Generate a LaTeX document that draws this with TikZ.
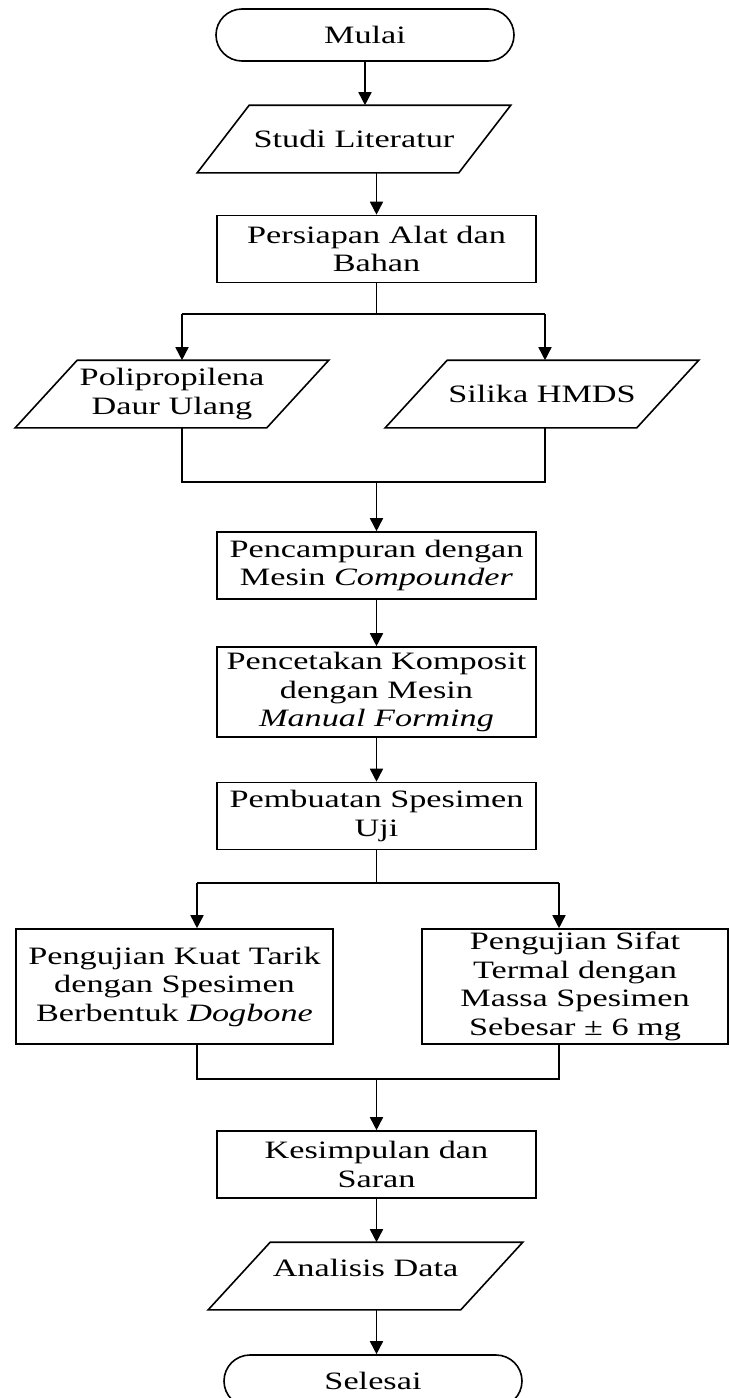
\documentclass[tikz,border=0pt]{standalone}
\usepackage{fontspec}
\setmainfont{Liberation Serif}[FakeStretch=1.37]
\usepackage{tikz}
\usetikzlibrary{arrows.meta}

\newcommand{\jajar}[2][31pt]{\draw[garis] (#2.south west) -- ([xshift=#1]#2.north west) -- (#2.north east) -- ([xshift=-#1]#2.south east) -- cycle;}

\begin{document}
\begin{tikzpicture}[x=0.5pt,y=-0.5pt]
\pgfmathsetmacro{\xMid}{376.5}
\pgfmathsetmacro{\xL}{182}
\pgfmathsetmacro{\xR}{545}

\tikzstyle{every node}=[font=\fontsize{12.5}{14.25}\selectfont, align=center, line width=0.8pt]
\tikzstyle{proses}=[draw, rectangle, minimum width=159.5pt, minimum height=33.5pt, inner sep=1pt]
\tikzstyle{data}=[rectangle, minimum width=156pt, minimum height=33pt, inner sep=1pt]
\tikzstyle{terminal}=[draw, rectangle, rounded corners=13pt, minimum width=149pt, minimum height=26pt]
\tikzstyle{arr}=[line width=0.8pt, -{Triangle[length=6.5pt,width=6.5pt]}]
\tikzstyle{garis}=[line width=0.8pt]

\useasboundingbox (0,0) rectangle (729,1398);

\node[terminal] (mulai) at (365,35) {Mulai};
\node[data] (studi) at (354,139) {Studi Literatur};
\node[proses] (persiapan) at (\xMid,249) {Persiapan Alat dan\\Bahan};
\node[data] (poli) at (172,394) {Polipropilena\\Daur Ulang};
\node[data] (silika) at (542,394) {Silika HMDS};
\node[proses] (pencampuran) at (\xMid,565.5) {Pencampuran dengan\\Mesin \textit{Compounder}};
\node[proses, minimum height=45pt] (pencetakan) at (\xMid,692) {Pencetakan Komposit\\dengan Mesin\\\textit{Manual Forming}};
\node[proses] (pembuatan) at (\xMid,816) {Pembuatan Spesimen\\Uji};
\node[proses, minimum width=158.5pt, minimum height=57.5pt] (tarik) at (174.5,986.5) {Pengujian Kuat Tarik\\dengan Spesimen\\Berbentuk \textit{Dogbone}};
\node[proses, minimum width=153pt, minimum height=57.5pt] (termal) at (575,986.5) {Pengujian Sifat\\Termal dengan\\Massa Spesimen\\Sebesar ± 6 mg};
\node[proses] (kesimpulan) at (\xMid,1164.5) {Kesimpulan dan\\Saran};
\node[data, minimum width=156.5pt, text depth=8pt] (analisis) at (365.5,1276) {Analisis Data};
\node[terminal] (selesai) at (373,1381) {Selesai};

\jajar[26pt]{studi}
\jajar{poli}
\jajar{silika}
\jajar{analisis}

\coordinate (pisah) at (\xMid,314);
\coordinate (pisahL) at (\xL,314);
\coordinate (pisahR) at (\xR,314);
\coordinate (gabungL) at (\xL,482);
\coordinate (gabungR) at (\xR,482);
\coordinate (gabung) at (\xMid,482);
\coordinate (pisah2) at (\xMid,883);
\coordinate (pisah2L) at (197,883);
\coordinate (pisah2R) at (559,883);
\coordinate (gabung2L) at (197,1079);
\coordinate (gabung2R) at (559,1079);
\coordinate (gabung2) at (\xMid,1079);

\draw[arr] (mulai.south) -- (mulai.south |- studi.north);
\draw[arr] (studi.south -| persiapan.north) -- (persiapan.north);
\draw[garis] (persiapan.south) -- (pisah);
\draw[garis] (pisahL) -- (pisahR);
\draw[arr] (pisahL) -- (pisahL |- poli.north);
\draw[arr] (pisahR) -- (pisahR |- silika.north);
\draw[garis] (pisahL |- poli.south) -- (gabungL) -- (gabungR) -- (pisahR |- silika.south);
\draw[arr] (gabung) -- (pencampuran.north);
\draw[arr] (pencampuran.south) -- (pencetakan.north);
\draw[arr] (pencetakan.south) -- (pembuatan.north);
\draw[garis] (pembuatan.south) -- (pisah2);
\draw[garis] (pisah2L) -- (pisah2R);
\draw[arr] (pisah2L) -- (pisah2L |- tarik.north);
\draw[arr] (pisah2R) -- (pisah2R |- termal.north);
\draw[garis] (pisah2L |- tarik.south) -- (gabung2L) -- (gabung2R) -- (pisah2R |- termal.south);
\draw[arr] (gabung2) -- (kesimpulan.north);
\draw[arr] (kesimpulan.south) -- (kesimpulan.south |- analisis.north);
\draw[arr] (analisis.south -| kesimpulan.south) -- (kesimpulan.south |- selesai.north);
\end{tikzpicture}
\end{document}
